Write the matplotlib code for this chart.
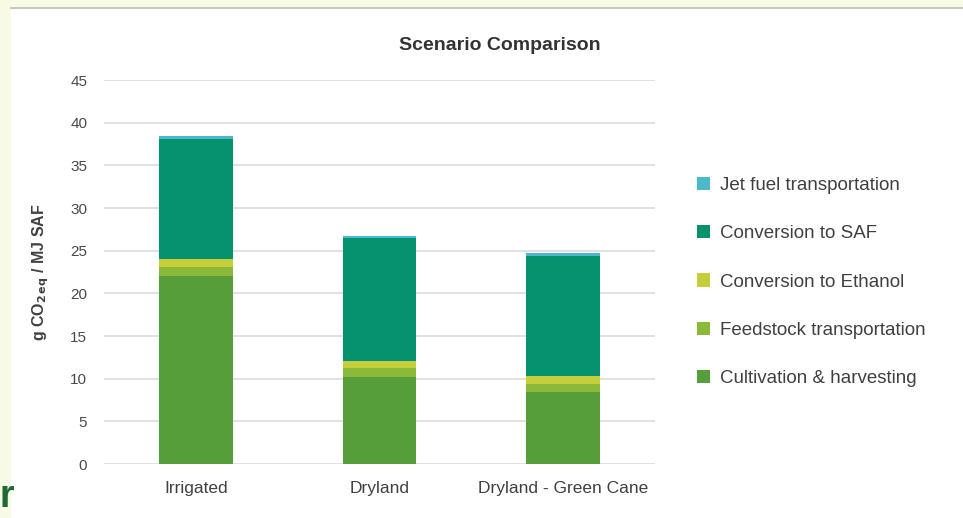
import matplotlib.pyplot as plt
import matplotlib.patches as mpatches
import numpy as np

plt.rcParams['font.family'] = ['Liberation Sans', 'DejaVu Sans']

scenarios = ['Irrigated', 'Dryland', 'Dryland - Green Cane']
cultivation = [22.0, 10.2, 8.4]
feedstock = [1.1, 1.0, 1.0]
ethanol = [0.95, 0.9, 0.9]
saf = [14.05, 14.4, 14.1]
jet_fuel = [0.3, 0.25, 0.3]

stages = ['Cultivation & harvesting', 'Feedstock transportation',
          'Conversion to Ethanol', 'Conversion to SAF', 'Jet fuel transportation']
colors = ['#559e3a', '#8db93a', '#c6cf3b', '#05936f', '#4bb8cb']
series = [cultivation, feedstock, ethanol, saf, jet_fuel]

W, H = 963, 518
fig = plt.figure(figsize=(W / 100, H / 100), dpi=100, facecolor='white')
# pale page strips around the white card
pale = '#f8fae6'
fig.patches.append(mpatches.Rectangle((0, 0), 11 / W, 1, transform=fig.transFigure,
                                      facecolor=pale, edgecolor='none'))
fig.patches.append(mpatches.Rectangle((0, 1 - 7 / H), 1, 7 / H, transform=fig.transFigure,
                                      facecolor=pale, edgecolor='none'))
fig.add_artist(plt.Line2D([11 / W, 1], [1 - 7.5 / H] * 2, color='#b9bcae', lw=1.2))
fig.text(0.0, 0.005, 'r', color='#1d6a34', fontsize=27, fontweight='bold', ha='left', va='bottom')

ax = fig.add_axes([104 / W, 1 - 464 / H, 551 / W, 384 / H])
ax.set_facecolor('none')

x = np.arange(len(scenarios))
bottom = np.zeros(len(scenarios))
handles = []
for vals, col, name in zip(series, colors, stages):
    h = ax.bar(x, vals, 0.4, bottom=bottom, color=col, label=name, zorder=3)
    handles.append(h)
    bottom += np.array(vals)

ax.set_xlim(-0.5, 2.5)
ax.set_ylim(0, 45)
ax.set_yticks(range(0, 46, 5))
ax.grid(axis='y', color='#dcdcdc', lw=1.2, zorder=0)
for s in ax.spines.values():
    s.set_visible(False)
ax.tick_params(axis='both', length=0, labelsize=11, colors='#4a4a4a')
ax.tick_params(axis='y', pad=12)
ax.tick_params(axis='x', pad=12, labelsize=12.5, labelcolor='#404040')
ax.set_xticks(x)
ax.set_xticklabels(scenarios)
ax.set_ylabel(r'g CO$_{\mathbf{2\,eq}}$ / MJ SAF', fontsize=11.5, fontweight='bold',
              color='#404040', labelpad=14)

fig.text(500 / W, 1 - 45 / H, 'Scenario Comparison', ha='center', va='center',
         fontsize=14, fontweight='bold', color='#333333')

fig.legend(handles[::-1], stages[::-1], loc='center left', bbox_to_anchor=(680 / W, 1 - 282 / H),
           frameon=False, fontsize=13.5, labelspacing=1.66, handlelength=0.7, handleheight=0.7,
           handletextpad=0.55, labelcolor='#404040')

fig.savefig('out.png', dpi=100, facecolor=fig.get_facecolor())
